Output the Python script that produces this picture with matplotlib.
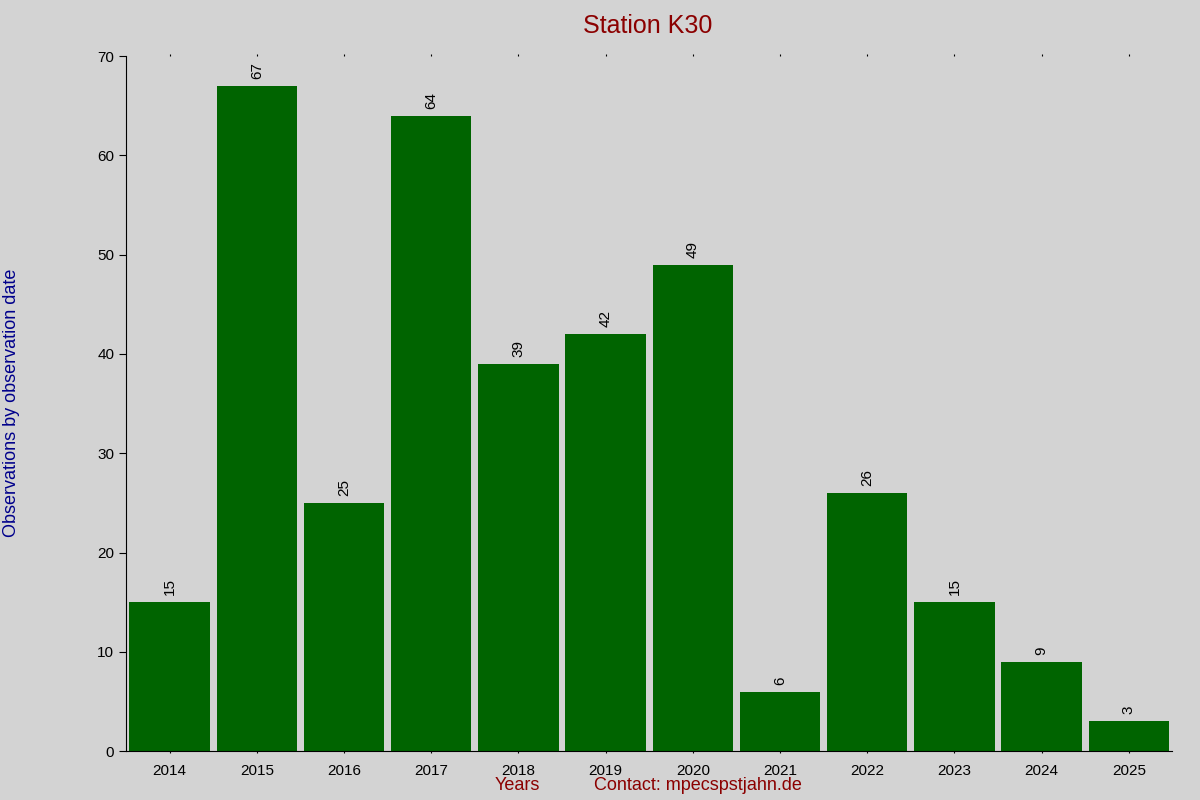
import matplotlib
matplotlib.use("Agg")
import matplotlib.pyplot as plt

years = ["2014","2015","2016","2017","2018","2019","2020","2021","2022","2023","2024","2025"]
counts = [15, 67, 25, 64, 39, 42, 49, 6, 26, 15, 9, 3]

plt.rcParams['font.family'] = ['Liberation Sans', 'DejaVu Sans']
fig = plt.figure(figsize=(12, 8), dpi=100, facecolor='#d3d3d3')
ax = fig.add_axes([0.105, 0.061, 0.872, 0.869], facecolor='#d3d3d3')
x = list(range(len(years)))
ax.bar(x, counts, width=0.92, color='#006400')
for xi, c in zip(x, counts):
    ax.text(xi, c + 0.7, str(c), rotation=90, ha='center', va='bottom', fontsize=11, color='black')
ax.set_xlim(-0.5, len(years) - 0.5)
ax.set_ylim(0, 70)
ax.set_xticks(x)
ax.set_xticklabels(years, fontsize=11)
ax.set_yticks(range(0, 71, 10))
ax.tick_params(axis='y', labelsize=11, length=5, direction='out')
ax.tick_params(axis='x', length=0, pad=8)
ax.tick_params(axis='x', top=True, length=1.5, direction='out')
for s in ['top', 'right']:
    ax.spines[s].set_visible(False)
fig.text(0.54, 0.967, "Station K30", ha='center', va='center', fontsize=18, color='#8b0000')
fig.text(0.431, 0.018, "Years", ha='center', va='center', fontsize=13, color='#8b0000')
fig.text(0.582, 0.018, "Contact: mpecspstjahn.de", ha='center', va='center', fontsize=13, color='#8b0000')
fig.text(0.01, 0.497, "Observations by observation date", rotation=90, ha='center', va='center', fontsize=13, color='#00008b')
fig.savefig("out.png", dpi=100, facecolor=fig.get_facecolor())
